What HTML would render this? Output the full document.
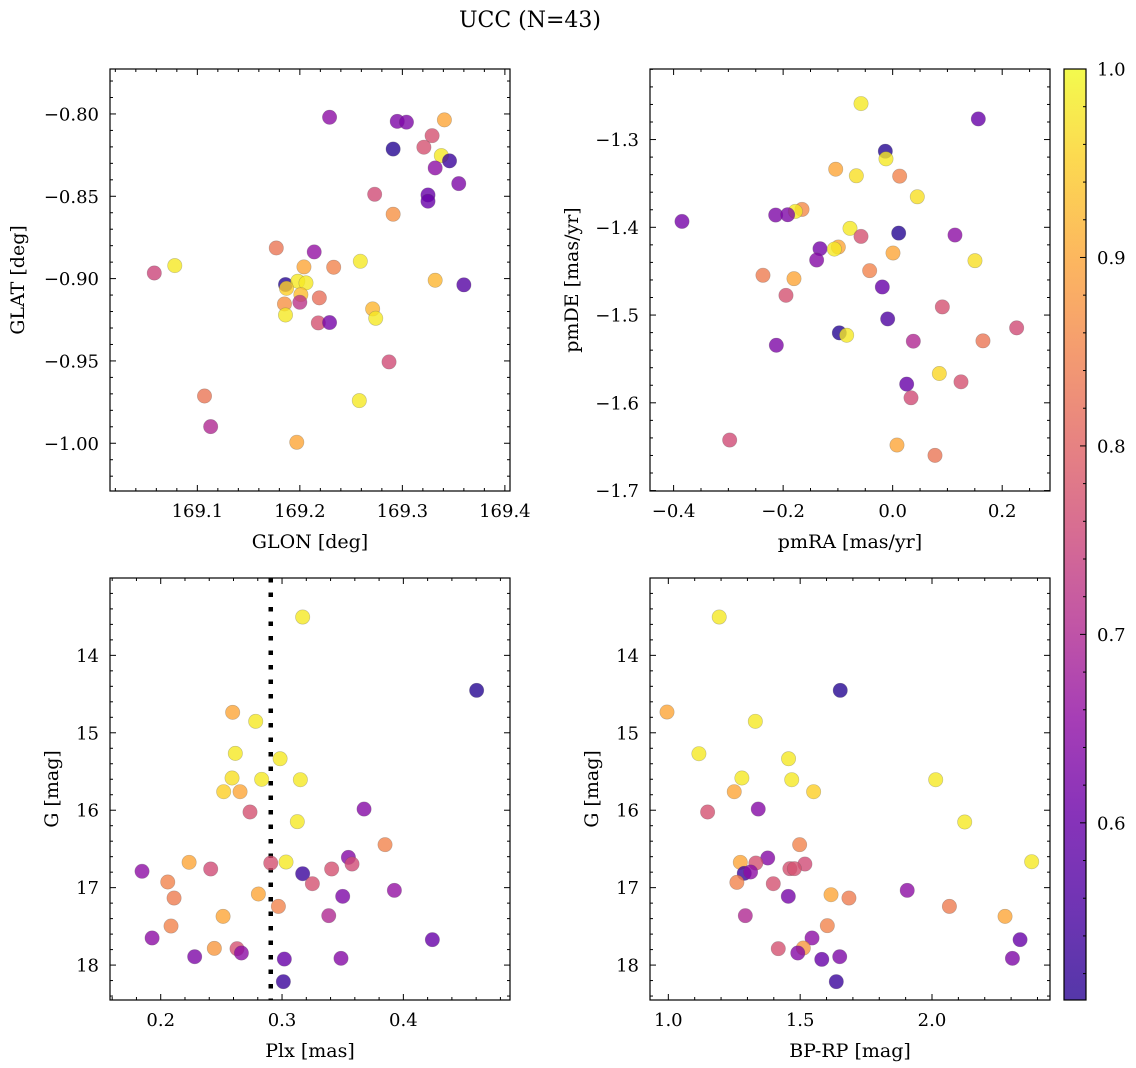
<!DOCTYPE html>
<html><head><meta charset="utf-8">
<style>
html,body{margin:0;padding:0;background:#fff;}
svg{display:block;font-family:"DejaVu Serif","Liberation Serif",serif;}
</style></head>
<body>
<svg id="fig" width="1136" height="1068" viewBox="0 0 1136 1068" xmlns="http://www.w3.org/2000/svg">
<defs>
<linearGradient id="plasma" x1="0" y1="1" x2="0" y2="0">
<stop offset="0" stop-color="#2a0593"/><stop offset="0.1" stop-color="#4c02a1"/>
<stop offset="0.2" stop-color="#6a00a8"/><stop offset="0.3" stop-color="#8f0da4"/>
<stop offset="0.4" stop-color="#b12a90"/><stop offset="0.5" stop-color="#cc4778"/>
<stop offset="0.6" stop-color="#e16462"/><stop offset="0.7" stop-color="#f2844b"/>
<stop offset="0.8" stop-color="#fca636"/><stop offset="0.9" stop-color="#fcce25"/>
<stop offset="1" stop-color="#f0f921"/>
</linearGradient>
</defs>
<text x="530" y="27" font-size="22" text-anchor="middle">UCC (N=43)</text>
</svg>
<script>
// Panel 1: GLON / GLAT
const p1Lon=[169.229,169.295,169.304,169.341,169.329,169.291,169.321,169.338,169.346,169.332,169.355,169.273,169.325,169.325,169.291,169.177,169.214,169.078,169.058,169.204,169.233,169.259,169.332,169.360,169.186,169.198,169.206,169.187,169.201,169.200,169.219,169.185,169.271,169.186,169.274,169.218,169.229,169.287,169.107,169.258,169.113,169.197];
const p1Lat=[-0.802,-0.8045,-0.805,-0.8036,-0.8132,-0.8213,-0.8202,-0.8253,-0.8285,-0.8328,-0.8423,-0.8488,-0.8492,-0.853,-0.8609,-0.8814,-0.8838,-0.8921,-0.8966,-0.8929,-0.8931,-0.8895,-0.901,-0.9038,-0.9036,-0.9016,-0.9026,-0.9059,-0.9097,-0.9144,-0.9117,-0.9154,-0.9184,-0.9221,-0.9241,-0.9269,-0.9267,-0.9506,-0.9713,-0.9741,-0.9899,-0.9994];
const p1Prob=[0.65,0.63,0.63,0.9,0.77,0.53,0.77,0.98,0.55,0.65,0.63,0.76,0.6,0.6,0.87,0.83,0.66,0.98,0.75,0.9,0.85,0.98,0.92,0.58,0.53,0.98,0.98,0.95,0.93,0.72,0.82,0.87,0.92,0.98,0.98,0.77,0.62,0.76,0.83,0.98,0.7,0.9];
// Panel 2: pmRA / pmDE
const p2RA=[-0.0578,0.1564,-0.0134,-0.0122,-0.104,-0.0663,0.0128,0.045,-0.1655,-0.1777,-0.2136,-0.1917,-0.3847,-0.0779,-0.0578,0.011,0.1138,-0.1327,-0.0992,-0.1065,-0.1388,0.0006,0.1503,-0.2368,-0.1802,-0.042,-0.1948,-0.0189,0.0907,0.2264,-0.0091,-0.0974,-0.084,-0.2124,0.0377,0.1649,0.0852,0.1248,0.0256,0.0335,-0.2976,0.0079,0.0773];
const p2DE=[-1.259,-1.2765,-1.3133,-1.322,-1.3338,-1.3413,-1.3417,-1.3652,-1.3796,-1.3819,-1.386,-1.3857,-1.3933,-1.4012,-1.4104,-1.4066,-1.4088,-1.4244,-1.4225,-1.4248,-1.4373,-1.4293,-1.438,-1.4547,-1.4585,-1.4494,-1.4775,-1.468,-1.4907,-1.5146,-1.5044,-1.5203,-1.523,-1.5344,-1.5298,-1.5294,-1.5666,-1.5761,-1.5787,-1.5943,-1.6424,-1.6481,-1.6599];
const p2Prob=[0.98,0.6,0.53,0.98,0.9,0.97,0.85,0.97,0.86,0.98,0.63,0.63,0.62,0.98,0.77,0.53,0.65,0.62,0.9,0.98,0.64,0.9,0.97,0.84,0.9,0.85,0.77,0.6,0.77,0.76,0.57,0.53,0.98,0.63,0.7,0.83,0.96,0.77,0.6,0.76,0.76,0.9,0.83];
// Panel 3: Plx / G
const p3Plx=[0.317,0.4604,0.2593,0.2783,0.2615,0.2984,0.2588,0.2832,0.3151,0.2519,0.2654,0.2736,0.3676,0.3126,0.3849,0.3547,0.3577,0.2907,0.3033,0.2234,0.2412,0.1846,0.3409,0.317,0.2058,0.325,0.211,0.2805,0.3926,0.35,0.297,0.2514,0.3385,0.2085,0.1929,0.4239,0.2442,0.2629,0.2665,0.228,0.3019,0.3486,0.3011];
const p3G=[13.505,14.452,14.736,14.852,15.266,15.335,15.584,15.601,15.606,15.761,15.761,16.023,15.985,16.148,16.445,16.609,16.695,16.682,16.669,16.673,16.759,16.789,16.759,16.82,16.927,16.949,17.134,17.082,17.035,17.112,17.242,17.371,17.362,17.496,17.65,17.672,17.784,17.788,17.844,17.892,17.922,17.913,18.214];
const p3Prob=[0.98,0.53,0.9,0.98,0.98,0.98,0.97,0.98,0.98,0.95,0.9,0.77,0.64,0.98,0.85,0.64,0.76,0.77,0.98,0.9,0.76,0.65,0.77,0.55,0.85,0.77,0.84,0.9,0.66,0.63,0.85,0.9,0.7,0.85,0.65,0.6,0.88,0.77,0.65,0.63,0.6,0.64,0.55];
const plxLine=[0.2907];
// Panel 4: BP-RP / G
const p4Col=[1.193,1.652,0.995,1.330,1.116,1.456,1.279,1.468,2.014,1.250,1.551,1.149,1.341,2.124,1.498,1.377,1.273,1.332,1.518,2.378,1.461,1.478,1.288,1.312,1.260,1.398,1.906,1.617,1.455,1.685,2.066,1.292,2.277,1.603,1.545,2.334,1.417,1.512,1.491,1.582,1.650,2.305,1.637];
const p4G=[13.505,14.452,14.732,14.852,15.27,15.335,15.584,15.606,15.606,15.761,15.761,16.023,15.985,16.152,16.445,16.617,16.673,16.682,16.695,16.665,16.755,16.755,16.815,16.798,16.932,16.949,17.035,17.091,17.112,17.134,17.242,17.362,17.371,17.491,17.65,17.672,17.788,17.78,17.844,17.926,17.892,17.913,18.214];
const p4Prob=[0.98,0.53,0.9,0.98,0.98,0.98,0.98,0.98,0.98,0.9,0.95,0.77,0.64,0.98,0.85,0.64,0.9,0.77,0.76,0.98,0.77,0.77,0.55,0.65,0.85,0.77,0.65,0.9,0.62,0.84,0.84,0.7,0.9,0.85,0.65,0.6,0.77,0.88,0.64,0.6,0.63,0.63,0.55];
const cbTicks=[0.6,0.7,0.8,0.9,1.0];

const NS="http://www.w3.org/2000/svg";
const svg=document.getElementById('fig');
const VMIN=0.506,VMAX=1.0;
const stops=["#0d0887","#41049d","#6a00a8","#8f0da4","#b12a90","#cc4778","#e16462","#f2844b","#fca636","#fcce25","#f0f921"];
function hex(h){return [parseInt(h.substr(1,2),16),parseInt(h.substr(3,2),16),parseInt(h.substr(5,2),16)];}
function plasma(v){let t=(v-VMIN)/(VMAX-VMIN);t=Math.max(0,Math.min(1,t));const s=t*10;const i=Math.min(9,Math.floor(s));const f=s-i;const a=hex(stops[i]),b=hex(stops[i+1]);return 'rgb('+a.map((c,k)=>Math.round(c+(b[k]-c)*f)).join(',')+')';}
function mk(tag,attrs,parent){const e=document.createElementNS(NS,tag);for(const k in attrs)e.setAttribute(k,attrs[k]);(parent||svg).appendChild(e);return e;}
function fmt(v,d){const s=Math.abs(v).toFixed(d);return (v<-1e-9?'\u2212':'')+s;}

function panel(cfg){
  const g=mk('g',{});
  
  
  const L=cfg.x0,R=cfg.x1,T=cfg.y0,B=cfg.y1;
  const sx=v=>L+(v-cfg.xmin)/(cfg.xmax-cfg.xmin)*(R-L);
  const sy=cfg.invert? (v=>T+(v-cfg.ymin)/(cfg.ymax-cfg.ymin)*(B-T)) : (v=>B-(v-cfg.ymin)/(cfg.ymax-cfg.ymin)*(B-T));
  const cid='clip'+cfg.name;
  const cp=mk('clipPath',{id:cid},g);mk('rect',{x:L,y:T,width:R-L,height:B-T},cp);
  const pts=mk('g',{'clip-path':'url(#'+cid+')'},g);
  if(cfg.vline){cfg.vline.forEach(v=>{const l=mk('line',{x1:sx(v),x2:sx(v),y1:T,y2:B,stroke:'#000','stroke-width':4.5,'stroke-dasharray':'4.5 10'},pts);
    
    });}
  cfg.xs.forEach((xv,i)=>{const c=mk('circle',{cx:sx(xv),cy:sy(cfg.ys[i]),r:7.2,fill:plasma(cfg.cs[i]),'fill-opacity':0.8,stroke:'#555','stroke-opacity':0.35,'stroke-width':0.6},pts);
    
    });
  const tk=mk('g',{stroke:'#000','stroke-width':1},g);
  const eps=1e-9;
  for(let v=Math.ceil(cfg.xmin/cfg.xminor-eps)*cfg.xminor;v<=cfg.xmax+eps;v+=cfg.xminor){
    const major=Math.abs(v/cfg.xmajor-Math.round(v/cfg.xmajor))<1e-6;const len=major?6:3;const x=sx(v);
    mk('line',{x1:x,x2:x,y1:B,y2:B-len},tk);mk('line',{x1:x,x2:x,y1:T,y2:T+len},tk);
    if(major){const t=mk('text',{x:x,y:B+26,'font-size':18,'text-anchor':'middle',stroke:'none'},g);t.textContent=fmt(v,cfg.xdec);
      
      }
  }
  for(let v=Math.ceil(cfg.ymin/cfg.yminor-eps)*cfg.yminor;v<=cfg.ymax+eps;v+=cfg.yminor){
    const major=Math.abs(v/cfg.ymajor-Math.round(v/cfg.ymajor))<1e-6;const len=major?6:3;const y=sy(v);
    mk('line',{x1:L,x2:L+len,y1:y,y2:y},tk);mk('line',{x1:R,x2:R-len,y1:y,y2:y},tk);
    if(major){const t=mk('text',{x:L-11,y:y+6.5,'font-size':18,'text-anchor':'end',stroke:'none'},g);t.textContent=fmt(v,cfg.ydec);
      
      }
  }
  const fr=mk('rect',{x:L,y:T,width:R-L,height:B-T,fill:'none',stroke:'#000','stroke-width':1.2},g);
  
  
  const xl=mk('text',{x:(L+R)/2,y:B+57,'font-size':19,'text-anchor':'middle'},g);xl.textContent=cfg.xlabel;
  
  
  const yl=mk('text',{x:0,y:0,'font-size':19,'text-anchor':'middle',transform:'translate('+cfg.ylx+','+((T+B)/2)+') rotate(-90)'},g);yl.textContent=cfg.ylabel;
  
  
}

panel({name:'glon-glat-panel',x0:110,x1:510,y0:69,y1:491,xmin:169.0148,xmax:169.405,ymin:-1.029,ymax:-0.7727,xs:p1Lon,ys:p1Lat,cs:p1Prob,xmajor:0.1,xminor:0.02,xdec:1,ymajor:0.05,yminor:0.01,ydec:2,xlabel:'GLON [deg]',ylabel:'GLAT [deg]',ylx:24});
panel({name:'pm-panel',x0:650,x1:1050,y0:69,y1:491,xmin:-0.4431,xmax:0.2873,ymin:-1.7005,ymax:-1.2196,xs:p2RA,ys:p2DE,cs:p2Prob,xmajor:0.2,xminor:0.05,xdec:1,ymajor:0.1,yminor:0.02,ydec:1,xlabel:'pmRA [mas/yr]',ylabel:'pmDE [mas/yr]',ylx:578});
panel({name:'plx-g-panel',x0:110,x1:510,y0:578,y1:1000,xmin:0.1582,xmax:0.4879,ymin:13.001,ymax:18.451,invert:true,xs:p3Plx,ys:p3G,cs:p3Prob,vline:plxLine,xmajor:0.1,xminor:0.02,xdec:1,ymajor:1,yminor:0.2,ydec:0,xlabel:'Plx [mas]',ylabel:'G [mag]',ylx:58});
panel({name:'cmd-panel',x0:650,x1:1050,y0:578,y1:1000,xmin:0.9305,xmax:2.4475,ymin:13.001,ymax:18.451,invert:true,xs:p4Col,ys:p4G,cs:p4Prob,xmajor:0.5,xminor:0.1,xdec:1,ymajor:1,yminor:0.2,ydec:0,xlabel:'BP-RP [mag]',ylabel:'G [mag]',ylx:598});

const cb=mk('g',{});


const cbT=69,cbB=1000,cbL=1064,cbR=1086;
mk('rect',{x:cbL,y:cbT,width:cbR-cbL,height:cbB-cbT,fill:'url(#plasma)','fill-opacity':0.8},cb);
mk('rect',{x:cbL,y:cbT,width:cbR-cbL,height:cbB-cbT,fill:'none',stroke:'#000','stroke-width':1.2},cb);
const cy=v=>cbB-(v-VMIN)/(VMAX-VMIN)*(cbB-cbT);
for(let v=0.52;v<=1.0001;v+=0.02){const y=cy(v);const major=Math.abs(v*10-Math.round(v*10))<1e-6;mk('line',{x1:cbR,x2:cbR-(major?6:3),y1:y,y2:y,stroke:'#000','stroke-width':1},cb);}
cbTicks.forEach(v=>{const t=mk('text',{x:cbR+11,y:cy(v)+6.5,'font-size':18},cb);t.textContent=v.toFixed(1);
  
  });
</script>
</body></html>
